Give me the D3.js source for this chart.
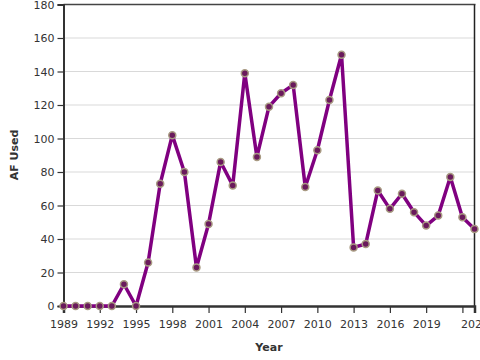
<!DOCTYPE html>
<html><head><meta charset="utf-8">
<script src="https://cdn.jsdelivr.net/npm/d3@7"></script>
<style>
html,body{margin:0;padding:0;background:#fff;}
svg{display:block;font-family:"DejaVu Sans",sans-serif;}
</style></head>
<body><svg id="c" width="480" height="360"></svg>
<script>
const years = [1989,1990,1991,1992,1993,1994,1995,1996,1997,1998,1999,2000,2001,2002,2003,2004,2005,2006,2007,2008,2009,2010,2011,2012,2013,2014,2015,2016,2017,2018,2019,2020,2021,2022,2023];
const afUsed = [0,0,0,0,0,13,0,26,73,102,80,23,49,86,72,139,89,119,127,132,71,93,123,150,35,37,69,58,67,56,48,54,77,53,46];
const yTicks = [0,20,40,60,80,100,120,140,160,180];
const xTicks = [1989,1992,1995,1998,2001,2004,2007,2010,2013,2016,2019,2022,2023];
const xTickLabels = ["1989","1992","1995","1998","2001","2004","2007","2010","2013","2016","2019","","2023"];

const svg = d3.select("#c");
const L = 63.5, R = 474.5, T = 4.5, B = 306;
const x = d3.scaleLinear().domain([1989,2023]).range([L,R]);
const y = d3.scaleLinear().domain([0,180]).range([B,T]);

// gridlines
svg.append("g").selectAll("line").data(yTicks.slice(1)).join("line")
  .attr("x1",L).attr("x2",R).attr("y1",d=>y(d)).attr("y2",d=>y(d))
  .attr("stroke","#d9d9d9").attr("stroke-width",1);

// frame top and right
svg.append("line").attr("x1",L).attr("x2",R+1).attr("y1",T).attr("y2",T).attr("stroke","#444").attr("stroke-width",1.5);
svg.append("line").attr("x1",R).attr("x2",R).attr("y1",T).attr("y2",B).attr("stroke","#222").attr("stroke-width",1.5);

// y axis
const ya = svg.append("g").attr("transform",`translate(${L},0)`)
  .call(d3.axisLeft(y).tickValues(yTicks).tickSize(6).tickPadding(3));
ya.select(".domain").attr("stroke","#333").attr("stroke-width",2);
ya.selectAll(".tick line").attr("stroke","#333").attr("stroke-width",1.2);
ya.selectAll("text").attr("font-size",11).attr("fill","#333").attr("font-family","DejaVu Sans");

// x axis
const xa = svg.append("g").attr("transform",`translate(0,${B})`)
  .call(d3.axisBottom(x).tickValues(xTicks).tickSize(7).tickPadding(7)
    .tickFormat((d,i)=>xTickLabels[i]));
xa.select(".domain").attr("stroke","#333").attr("stroke-width",2.5);
xa.selectAll(".tick line").attr("stroke","#333").attr("stroke-width",1.2);
xa.selectAll("text").attr("font-size",11).attr("fill","#333").attr("font-family","DejaVu Sans");

// line
const pts = years.map((yr,i)=>[yr,afUsed[i]]);
svg.append("path").datum(pts)
  .attr("fill","none").attr("stroke","#800080").attr("stroke-width",3.5)
  .attr("stroke-linejoin","round")
  .attr("d",d3.line().x(d=>x(d[0])).y(d=>y(d[1])));

svg.append("g").selectAll("circle").data(pts).join("circle")
  .attr("cx",d=>x(d[0])).attr("cy",d=>y(d[1])).attr("r",3.5)
  .attr("fill","#6a1a5c").attr("stroke","#a89a82").attr("stroke-width",1.5);

// titles
svg.append("text").attr("x",269).attr("y",351).attr("text-anchor","middle")
  .attr("font-size",11).attr("font-weight","bold").attr("fill","#333").text("Year");
svg.append("text").attr("transform","translate(18,155) rotate(-90)").attr("text-anchor","middle")
  .attr("font-size",11).attr("font-weight","bold").attr("fill","#333").text("AF Used");
</script></body></html>
